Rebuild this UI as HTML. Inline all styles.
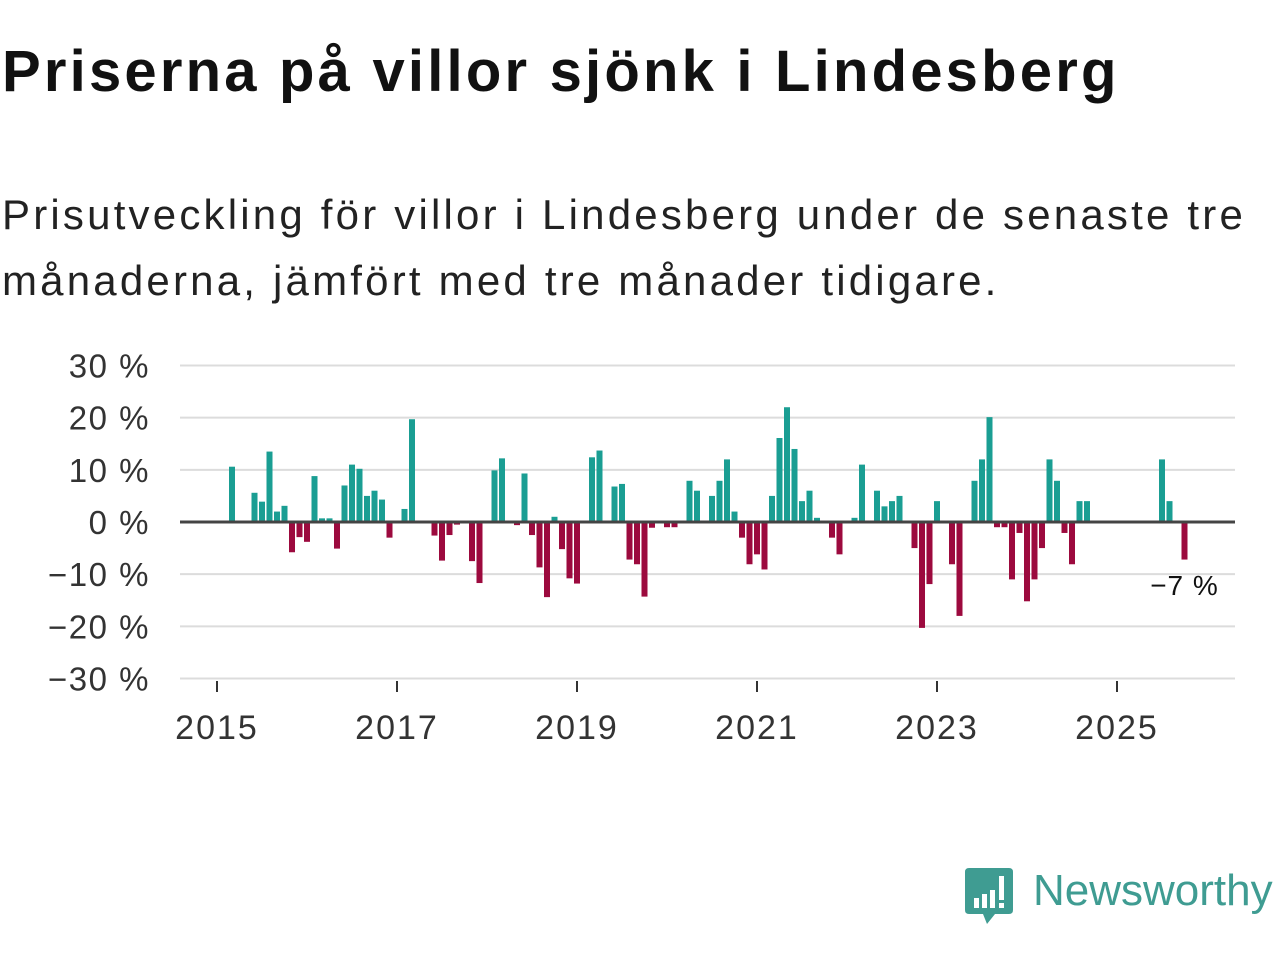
<!DOCTYPE html>
<html><head><meta charset="utf-8">
<style>
body{margin:0;width:1280px;height:960px;background:#fff;font-family:"Liberation Sans",sans-serif;overflow:hidden;position:relative}
h1{position:absolute;left:2px;top:38px;margin:0;font-size:58px;font-weight:bold;color:#111;letter-spacing:3.2px;white-space:nowrap}
p.sub{position:absolute;left:2px;top:182px;margin:0;font-size:42px;line-height:66px;color:#222;letter-spacing:3.2px;white-space:nowrap}
svg{position:absolute;left:0;top:0}
</style></head><body>
<h1>Priserna på villor sjönk i Lindesberg</h1>
<p class="sub">Prisutveckling för villor i Lindesberg under de senaste tre<br>månaderna, jämfört med tre månader tidigare.</p>
<svg id="chart" width="1280" height="960"></svg>
<div style="position:absolute;left:965px;top:866px;width:310px;height:60px">
<svg width="50" height="60" style="position:absolute;left:0;top:0"><path d="M4 2 H44 Q48 2 48 6 V44 Q48 48 44 48 H30 L22 58 L18 48 H4 Q0 48 0 44 V6 Q0 2 4 2Z" fill="#3f9c92"/><rect x="9" y="32" width="5" height="10" fill="#fff"/><rect x="17" y="28" width="5" height="14" fill="#fff"/><rect x="25" y="24" width="5" height="18" fill="#fff"/><rect x="34" y="10" width="5" height="24" fill="#fff"/><rect x="34" y="37" width="5" height="5" fill="#fff"/></svg>
<span style="position:absolute;left:68px;top:0px;font-size:44px;color:#3f9c92;font-weight:500">Newsworthy</span>
</div>
<script>
const startYear = 2015;
const yTicks = [30,20,10,0,-10,-20,-30];
const xTickYears = [2015,2017,2019,2021,2023,2025];
const monthIndex = [2,5,6,7,8,9,10,11,12,13,14,15,16,17,18,19,20,21,22,23,25,26,29,30,31,32,34,35,37,38,40,41,42,43,44,45,46,47,48,50,51,53,54,55,56,57,58,60,61,63,64,66,67,68,69,70,71,72,73,74,75,76,77,78,79,80,82,83,85,86,88,89,90,91,93,94,95,96,98,99,101,102,103,104,105,106,107,108,109,110,111,112,113,114,115,116,126,127,129];
const values = [10.6,5.6,3.9,13.5,2.0,3.1,-5.8,-2.9,-3.8,8.8,0.7,0.7,-5.1,7.0,11.0,10.2,5.0,6.0,4.3,-3.0,2.5,19.7,-2.6,-7.4,-2.5,-0.5,-7.5,-11.7,9.9,12.2,-0.6,9.3,-2.5,-8.7,-14.4,1.0,-5.2,-10.8,-11.8,12.4,13.7,6.8,7.3,-7.2,-8.1,-14.3,-1.1,-1.0,-1.0,7.9,6.0,5.0,7.9,12.0,2.0,-3.0,-8.1,-6.2,-9.1,5.0,16.1,22.0,14.0,4.0,6.0,0.8,-3.0,-6.2,0.8,11.0,6.0,3.0,4.0,5.0,-5.0,-20.3,-11.9,4.0,-8.1,-18.0,7.9,12.0,20.1,-1.0,-1.0,-11.0,-2.1,-15.2,-11.0,-5.0,12.0,7.9,-2.1,-8.1,4.0,4.0,12.0,4.0,-7.2];
const lastLabel = ["−7 %"];

const NS="http://www.w3.org/2000/svg";
const svg=document.getElementById('chart');
const X0=180,X1=1235;
const xScale=m=>217+m*7.5;
const yScale=v=>522-v*5.217;
function el(t,a){const e=document.createElementNS(NS,t);for(const k in a)e.setAttribute(k,a[k]);svg.appendChild(e);return e;}
yTicks.forEach(t=>{
  if(t!==0){const g=el('line',{x1:X0,x2:X1,y1:yScale(t),y2:yScale(t),stroke:'#dcdcdc','stroke-width':2});
  
  }
  const tx=el('text',{x:150,y:yScale(t)+12,'text-anchor':'end','font-size':33,fill:'#333','letter-spacing':1.5});
  tx.textContent=(t<0?'−'+(-t):t)+' %';
  
  
});
xTickYears.forEach(y=>{
  const x=xScale((y-startYear)*12);
  const tk=el('line',{x1:x,x2:x,y1:681,y2:692,stroke:'#333','stroke-width':2});
  
  
  const tx=el('text',{x:x,y:739,'text-anchor':'middle','font-size':34,fill:'#333','letter-spacing':2});
  tx.textContent=y;
  
  
});
values.forEach((v,i)=>{
  const x=xScale(monthIndex[i]);
  const y0=yScale(0),y1=yScale(v);
  const r=el('rect',{x:x-3,width:6,y:Math.min(y0,y1),height:Math.max(1,Math.abs(y1-y0)),fill:v>=0?'#1a9e93':'#9c0a3e'});
  
  
});
const zl=el('line',{x1:X0,x2:X1,y1:yScale(0),y2:yScale(0),stroke:'#444','stroke-width':3});


const lx=xScale(monthIndex[monthIndex.length-1]);
const lbl=el('text',{x:lx,y:595,'text-anchor':'middle','font-size':28,fill:'#111','letter-spacing':1});
lbl.textContent=lastLabel[0];


</script>
</body></html>
